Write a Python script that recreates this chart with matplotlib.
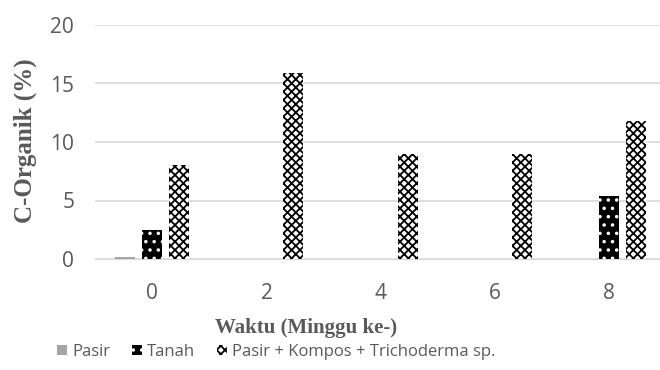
import matplotlib
matplotlib.use('Agg')
import matplotlib.pyplot as plt
import numpy as np

plt.rcParams['hatch.linewidth'] = 1.3

weeks = ['0', '2', '4', '6', '8']
pasir = [0.15, 0, 0, 0, 0]
tanah = [2.5, 0, 0, 0, 5.4]
kompos = [8.0, 15.9, 9.0, 9.0, 11.8]
series_names = ['Pasir', 'Tanah', 'Pasir + Kompos + Trichoderma sp.']

grey = '#595959'
fig = plt.figure(figsize=(6.6, 3.7), dpi=100)
ax = fig.add_axes([95 / 660, 111 / 370, 575 / 660, 234 / 370])

x = np.arange(len(weeks))
w = 0.175
step = 0.235
ax.bar(x - step, pasir, w, color='#a5a5a5', label=series_names[0], zorder=3)
ax.bar(x, tanah, w, facecolor='black', edgecolor='white', hatch='..',
       linewidth=0, label=series_names[1], zorder=3)
ax.bar(x + step, kompos, w, facecolor='white', edgecolor='black', hatch='xxxx',
       linewidth=0, label=series_names[2], zorder=3)

ax.set_xlim(-0.5, 4.53)
ax.set_ylim(0, 20)
ax.set_yticks([0, 5, 10, 15, 20])
ax.set_xticks(x)
ax.set_xticklabels(weeks)
ax.yaxis.grid(True, color='#d9d9d9', linewidth=1.2, zorder=0)
for s in ['top', 'right', 'left']:
    ax.spines[s].set_visible(False)
ax.spines['bottom'].set_color('#d9d9d9')
ax.tick_params(length=0, labelsize=15, colors=grey)
ax.tick_params(axis='x', pad=17)
ax.tick_params(axis='y', pad=15)
for lab in ax.get_xticklabels() + ax.get_yticklabels():
    lab.set_family('Open Sans')

ax.set_ylabel('C-Organik (%)', family='Liberation Serif', fontweight='bold',
              fontsize=18, color=grey, va='center')
ax.yaxis.set_label_coords(-0.122, 0.504)
ax.set_xlabel('Waktu (Minggu ke-)', family='Liberation Serif', fontweight='bold',
              fontsize=15, color=grey, va='center')
ax.xaxis.set_label_coords(0.367, -0.295)

leg = ax.legend(loc='center', bbox_to_anchor=(0.315, -0.397), ncol=3, frameon=False,
                prop={'family': 'Open Sans', 'size': 12}, handlelength=0.6,
                handleheight=0.6, handletextpad=0.3, columnspacing=1.3,
                borderpad=0, borderaxespad=0)
for t in leg.get_texts():
    t.set_color(grey)

fig.savefig('out.png', dpi=100)
